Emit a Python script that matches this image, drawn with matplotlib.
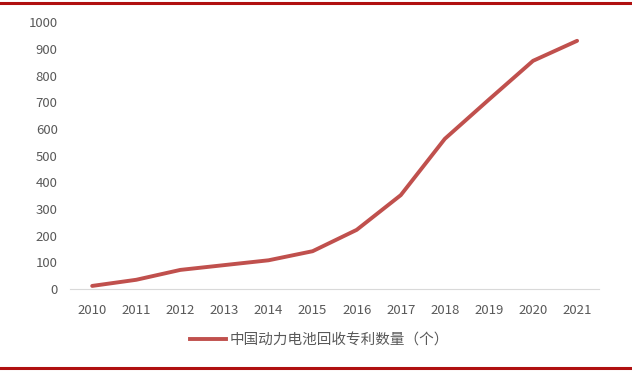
import matplotlib
matplotlib.use('Agg')
import matplotlib.pyplot as plt
from matplotlib.lines import Line2D

plt.rcParams['font.family'] = ['Noto Sans CJK SC', 'DejaVu Sans']

years = ['2010', '2011', '2012', '2013', '2014', '2015',
         '2016', '2017', '2018', '2019', '2020', '2021']
patents = [12, 35, 72, 90, 108, 142, 222, 352, 563, 710, 855, 930]
series_name = '中国动力电池回收专利数量（个）'

fig = plt.figure(figsize=(6.32, 3.75), dpi=100)
ax = fig.add_axes([0.111, 0.229, 0.837, 0.712])

x = range(len(years))
ax.plot(x, patents, color='#C0504D', linewidth=2.8, solid_capstyle='round')

ax.set_xlim(-0.5, len(years) - 0.5)
ax.set_ylim(0, 1000)
ax.set_yticks(range(0, 1001, 100))
ax.set_xticks(list(x))
ax.set_xticklabels(years)

for s in ['top', 'right', 'left']:
    ax.spines[s].set_visible(False)
ax.spines['bottom'].set_color('#D9D9D9')
ax.tick_params(axis='both', length=0, colors='#595959', labelsize=9.5)
ax.tick_params(axis='x', pad=11)
ax.tick_params(axis='y', pad=9)

handle = Line2D([0], [0], color='#C0504D', linewidth=2.8)
fig.legend([handle], [series_name], loc='center', bbox_to_anchor=(0.505, 0.093),
           frameon=False, fontsize=10.5, labelcolor='#595959',
           handlelength=2.5, handletextpad=0.2)

# red rules at top and bottom
fig.add_artist(Line2D([0, 1], [0.992, 0.992], color='#B01010', linewidth=2.2))
fig.add_artist(Line2D([0, 1], [0.019, 0.019], color='#B01010', linewidth=2.2))

fig.savefig('out.png', dpi=100)
